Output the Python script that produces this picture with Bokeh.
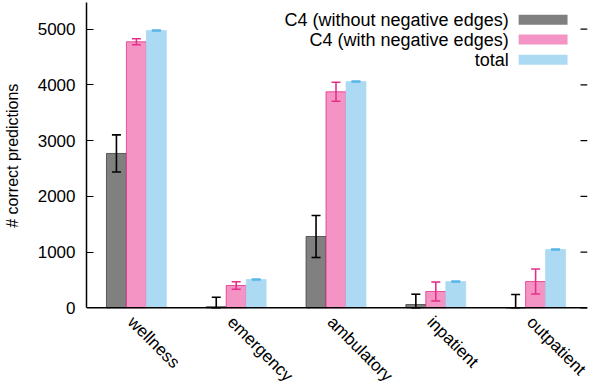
import numpy as np
from bokeh.plotting import figure
from bokeh.models import (ColumnDataSource, Whisker, TeeHead, FixedTicker,
                          Range1d, Label, BoxAnnotation, Span)
from bokeh.core.properties import value
from bokeh.embed import file_html
from bokeh.resources import INLINE

categories = ["wellness", "emergency", "ambulatory", "inpatient", "outpatient"]
series_names = ["C4 (without negative edges)", "C4 (with negative edges)", "total"]
without_neg = [2770, 20, 1280, 59, 0]
without_neg_err = [333, 170, 377, 185, 240]
with_neg = [4774, 400, 3877, 293, 472]
with_neg_err = [54, 68, 170, 170, 225]
total = [4977, 508, 4061, 472, 1046]
total_err = [8, 8, 8, 8, 8]
y_ticks = [0, 1000, 2000, 3000, 4000, 5000]
y_label = "# correct predictions"

FONT = "Liberation Sans"
bar_colors = ["#808080", "#f394c4", "#acdaf2"]
err_colors = ["#000000", "#e5308a", "#56b4e9"]
edge_colors = ["#404040", "#e5308a", "#acdaf2"]

# frame: 502 px wide (x 85..587), 382 px tall (y 2..384); zero line at y~307
X0, X1 = -0.5, 4.52
Y0, Y1 = -1376, 5479

p = figure(width=594, height=384, output_backend="svg", toolbar_location=None,
           x_range=Range1d(X0, X1), y_range=Range1d(Y0, Y1),
           min_border_left=85, min_border_right=7, min_border_top=2, min_border_bottom=0)
p.outline_line_color = None
p.xgrid.visible = False
p.ygrid.visible = False
p.xaxis.visible = False

x = np.arange(len(categories))
series = [(without_neg, without_neg_err), (with_neg, with_neg_err), (total, total_err)]
offsets = [-0.2, 0.0, 0.2]
for i, ((vals, errs), off) in enumerate(zip(series, offsets)):
    vals = np.array(vals, dtype=float)
    errs = np.array(errs, dtype=float)
    src = ColumnDataSource(dict(x=x + off, top=vals,
                                lower=np.maximum(vals - errs, 0), upper=vals + errs))
    p.vbar(x="x", top="top", bottom=0, width=0.2, source=src, fill_color=bar_colors[i],
           line_color=edge_colors[i], line_width=0.8)
    w = Whisker(source=src, base="x", lower="lower", upper="upper", level="overlay",
                line_color=err_colors[i], line_width=1.6,
                upper_head=TeeHead(size=9, line_color=err_colors[i], line_width=1.6),
                lower_head=TeeHead(size=9, line_color=err_colors[i], line_width=1.6))
    p.add_layout(w)

# x axis line at zero and rotated category labels
p.add_layout(Span(location=0, dimension="width", line_color="black", line_width=1.5))
p.text(x=x + 0.01, y=[-85] * len(categories), text=categories, angle=-np.pi / 4,
       text_align="left", text_baseline="top", text_font=value(FONT),
       text_font_size="17px", text_color="black")

p.yaxis.bounds = (0, Y1)
p.yaxis.ticker = FixedTicker(ticks=y_ticks)
p.yaxis.major_tick_in = 7
p.yaxis.major_tick_out = 0
p.yaxis.minor_tick_line_color = None
p.yaxis.axis_line_width = 1.5
p.yaxis.major_tick_line_width = 1.2
p.yaxis.major_label_text_font = FONT
p.yaxis.major_label_text_font_size = "17px"
p.yaxis.major_label_text_color = "black"
p.yaxis.major_label_standoff = 11
# leading no-break spaces lift the centred label onto the 0..top part of the axis
p.yaxis.axis_label = "\u00a0" * 17 + y_label
p.yaxis.axis_label_text_font = FONT
p.yaxis.axis_label_text_font_size = "16px"
p.yaxis.axis_label_text_font_style = "normal"
p.yaxis.axis_label_text_color = "black"
p.yaxis.axis_label_standoff = 14

# mirrored inward ticks on the right side (no axis line)
frame_w = 502.0
tick_len = 7 * (X1 - X0) / frame_w
p.segment(x0=[X1 - tick_len] * len(y_ticks), x1=[X1] * len(y_ticks),
          y0=y_ticks, y1=y_ticks, line_color="black", line_width=1.2)

# legend (label left, swatch right)
leg_text_x = 3.73
sw_left, sw_right = 3.83, 4.32
row_y = [5169, 4815, 4450]
for i, name in enumerate(series_names):
    p.add_layout(Label(x=leg_text_x, y=row_y[i], text=name, text_align="right",
                       text_baseline="middle", text_font=FONT, text_font_size="18px",
                       text_color="black"))
    p.add_layout(BoxAnnotation(left=sw_left, right=sw_right, bottom=row_y[i] - 90,
                               top=row_y[i] + 90, fill_color=bar_colors[i], fill_alpha=1,
                               line_color=None))

open("out.html", "w").write(file_html(p, INLINE))
